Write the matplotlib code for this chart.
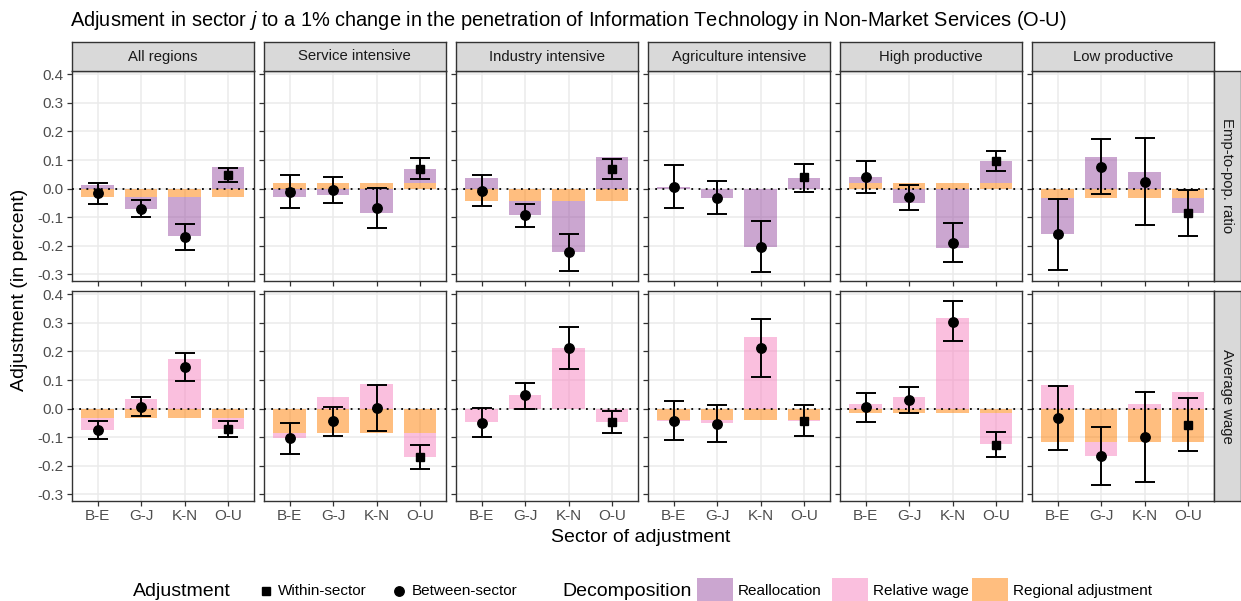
import matplotlib
matplotlib.use("Agg")
import matplotlib.pyplot as plt
from matplotlib.patches import Rectangle
from matplotlib.lines import Line2D
import numpy as np

plt.rcParams["font.family"] = ["Liberation Sans", "DejaVu Sans"]
plt.rcParams["mathtext.fontset"] = "custom"
plt.rcParams["mathtext.it"] = "Liberation Sans:italic"
plt.rcParams["mathtext.rm"] = "Liberation Sans"

regions = ["All regions", "Service intensive", "Industry intensive",
           "Agriculture intensive", "High productive", "Low productive"]
sectors = ["B-E", "G-J", "K-N", "O-U"]
outcomes = ["Emp-to-pop. ratio", "Average wage"]

# employment-to-population ratio (rows = regions, cols = sectors)
emp_regional = [[-0.029, -0.029, -0.029, -0.029],
                [0.018, 0.018, 0.018, 0.018],
                [-0.044, -0.044, -0.044, -0.044],
                [-0.002, -0.002, -0.002, -0.002],
                [0.018, 0.018, 0.018, 0.018],
                [-0.034, -0.034, -0.034, -0.034]]
emp_realloc = [[0.012, -0.041, -0.138, 0.075],
               [-0.028, -0.021, -0.085, 0.051],
               [0.036, -0.048, -0.178, 0.112],
               [0.006, -0.030, -0.203, 0.036],
               [0.023, -0.049, -0.207, 0.078],
               [-0.125, 0.110, 0.057, -0.053]]
emp_point = [[-0.015, -0.070, -0.170, 0.049],
             [-0.012, -0.004, -0.068, 0.070],
             [-0.007, -0.092, -0.223, 0.070],
             [0.006, -0.032, -0.205, 0.039],
             [0.041, -0.030, -0.189, 0.097],
             [-0.160, 0.075, 0.022, -0.087]]
emp_lo = [[-0.054, -0.099, -0.214, 0.022],
          [-0.069, -0.049, -0.138, 0.033],
          [-0.060, -0.135, -0.287, 0.035],
          [-0.069, -0.089, -0.292, -0.011],
          [-0.014, -0.074, -0.257, 0.061],
          [-0.284, -0.020, -0.129, -0.167]]
emp_hi = [[0.021, -0.041, -0.124, 0.071],
          [0.049, 0.042, 0.002, 0.108],
          [0.048, -0.053, -0.159, 0.104],
          [0.081, 0.027, -0.113, 0.087],
          [0.098, 0.014, -0.120, 0.133],
          [-0.035, 0.172, 0.177, -0.006]]

# average wage
wage_regional = [[-0.032, -0.032, -0.032, -0.032],
                 [-0.087, -0.087, -0.087, -0.087],
                 [0.0, 0.0, 0.0, 0.0],
                 [-0.041, -0.041, -0.041, -0.041],
                 [-0.014, -0.014, -0.014, -0.014],
                 [-0.116, -0.116, -0.116, -0.116]]
wage_relwage = [[-0.043, 0.035, 0.174, -0.041],
                [-0.017, 0.042, 0.087, -0.083],
                [-0.048, 0.047, 0.212, -0.047],
                [-0.001, -0.010, 0.251, -0.001],
                [0.016, 0.042, 0.318, -0.110],
                [0.083, -0.050, 0.016, 0.058]]
wage_point = [[-0.075, 0.006, 0.146, -0.073],
              [-0.104, -0.044, 0.001, -0.168],
              [-0.049, 0.047, 0.211, -0.047],
              [-0.042, -0.054, 0.213, -0.042],
              [0.004, 0.029, 0.304, -0.126],
              [-0.033, -0.167, -0.099, -0.057]]
wage_lo = [[-0.108, -0.027, 0.096, -0.101],
           [-0.158, -0.096, -0.077, -0.212],
           [-0.098, 0.000, 0.139, -0.085],
           [-0.111, -0.116, 0.112, -0.096],
           [-0.047, -0.016, 0.235, -0.168],
           [-0.144, -0.269, -0.256, -0.149]]
wage_hi = [[-0.042, 0.039, 0.194, -0.043],
           [-0.050, 0.007, 0.082, -0.126],
           [0.001, 0.091, 0.285, -0.008],
           [0.027, 0.012, 0.315, 0.013],
           [0.055, 0.077, 0.378, -0.083],
           [0.080, -0.064, 0.058, 0.036]]

within_sector = "O-U"
yticks = [-0.3, -0.2, -0.1, 0.0, 0.1, 0.2, 0.3, 0.4]

C_REALLOC = "#984EA3"
C_RELWAGE = "#F781BF"
C_REGION = "#FF7F00"
ALPHA = 0.5
GRID = "#EBEBEB"
BORDER = "#333333"
STRIP = "#D9D9D9"

W, H = 1241, 601
fig = plt.figure(figsize=(W / 100, H / 100), dpi=100)


def fx(px):
    return px / W


def fy(py):
    return 1 - py / H


panel_left = [71.7 + 192.0 * i for i in range(6)]
panel_w = 182.3
row_top = [71.0, 291.0]
panel_h = 210.0

rows = [
    (emp_regional, emp_realloc, C_REALLOC, emp_point, emp_lo, emp_hi),
    (wage_regional, wage_relwage, C_RELWAGE, wage_point, wage_lo, wage_hi),
]

x = np.arange(1, len(sectors) + 1)
for r, (reg, comp, comp_col, pt, lo, hi) in enumerate(rows):
    for c in range(len(regions)):
        ax = fig.add_axes([fx(panel_left[c]), fy(row_top[r] + panel_h),
                           fx(panel_w), panel_h / H])
        reg_v = np.array(reg[c])
        comp_v = np.array(comp[c])
        # stack like ggplot: regional next to zero, component on the same side continues
        same = np.sign(comp_v) == np.sign(reg_v)
        base = np.where(same & (reg_v != 0), reg_v, 0.0)
        ax.bar(x, reg_v, width=0.75, color=C_REGION, alpha=ALPHA, lw=0, zorder=2)
        ax.bar(x, comp_v, bottom=base, width=0.75, color=comp_col, alpha=ALPHA, lw=0, zorder=2)
        ax.axhline(0, color="black", ls=(0, (1, 3)), lw=1.3, zorder=3)
        p = np.array(pt[c])
        err = [p - np.array(lo[c]), np.array(hi[c]) - p]
        ax.errorbar(x, p, yerr=err, fmt="none", ecolor="black", elinewidth=1.4,
                    capsize=7.5, capthick=1.4, zorder=4)
        for i, s in enumerate(sectors):
            mk = "s" if s == within_sector else "o"
            ax.plot(x[i], p[i], marker=mk, color="black", ms=6.8 if mk == "o" else 6.2,
                    ls="none", zorder=5)
        ax.set_xlim(0.4, 4.6)
        ax.set_ylim(-0.3235, 0.4115)
        ax.set_yticks(yticks)
        ax.set_xticks(x)
        ax.grid(color=GRID, lw=1.1, zorder=0)
        ax.set_axisbelow(True)
        for sp in ax.spines.values():
            sp.set_color(BORDER)
            sp.set_linewidth(1.0)
        ax.tick_params(colors=BORDER, labelcolor="#4D4D4D", labelsize=11, length=3.5,
                       width=0.9, pad=2.5)
        if c == 0:
            ax.set_yticklabels([f"{v:.1f}" for v in yticks])
        else:
            ax.set_yticklabels([])
        if r == 1:
            ax.set_xticklabels(sectors)
        else:
            ax.set_xticklabels([])

        # top strips
        if r == 0:
            sax = fig.add_axes([fx(panel_left[c]), fy(71.0), fx(panel_w), 29.0 / H])
            sax.set_facecolor(STRIP)
            sax.set_xticks([]); sax.set_yticks([])
            for sp in sax.spines.values():
                sp.set_color(BORDER); sp.set_linewidth(1.0)
            sax.text(0.5, 0.5, regions[c], ha="center", va="center", fontsize=10.7,
                     color="#1A1A1A", transform=sax.transAxes)
        # right strips
        if c == len(regions) - 1:
            rax = fig.add_axes([fx(panel_left[c] + panel_w), fy(row_top[r] + panel_h),
                                fx(26.5), panel_h / H])
            rax.set_facecolor(STRIP)
            rax.set_xticks([]); rax.set_yticks([])
            for sp in rax.spines.values():
                sp.set_color(BORDER); sp.set_linewidth(1.0)
            rax.text(0.5, 0.5, outcomes[r], ha="center", va="center", fontsize=10.7,
                     color="#1A1A1A", rotation=-90, transform=rax.transAxes)

fig.text(fx(70), fy(20),
         "Adjusment in sector $j$ to a 1% change in the penetration of Information "
         "Technology in Non-Market Services (O-U)",
         ha="left", va="center", fontsize=14.4, color="black")
fig.text(fx(20), fy(290), "Adjustment (in percent)", rotation=90, ha="center",
         va="center", fontsize=14)
fig.text(fx(641), fy(537), "Sector of adjustment", ha="center", va="center", fontsize=14)

# legend
ly = fy(591)
fig.text(fx(133), ly, "Adjustment", ha="left", va="center", fontsize=14)
fig.add_artist(Line2D([fx(266)], [ly], marker="s", color="black", ms=6.2, ls="none",
                      transform=fig.transFigure))
fig.text(fx(278), ly, "Within-sector", ha="left", va="center", fontsize=11)
fig.add_artist(Line2D([fx(399)], [ly], marker="o", color="black", ms=6.8, ls="none",
                      transform=fig.transFigure))
fig.text(fx(412), ly, "Between-sector", ha="left", va="center", fontsize=11)
fig.text(fx(562), ly, "Decomposition", ha="left", va="center", fontsize=14)
for x0, col, lab in [(697, C_REALLOC, "Reallocation"), (832, C_RELWAGE, "Relative wage"),
                     (972, C_REGION, "Regional adjustment")]:
    fig.add_artist(Rectangle((fx(x0), fy(604)), fx(36), 26 / H, facecolor=col, alpha=ALPHA,
                             lw=0, transform=fig.transFigure))
    fig.text(fx(x0 + 41), ly, lab, ha="left", va="center", fontsize=11)

fig.savefig("out.png", dpi=100)
